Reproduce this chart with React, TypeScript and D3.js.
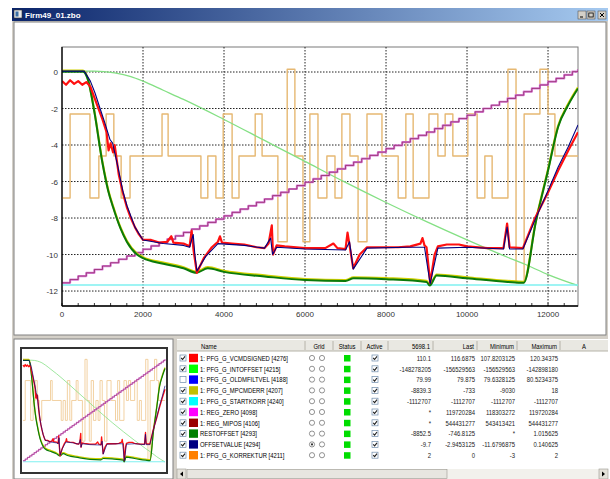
import React from "react";
import * as d3 from "d3";

type P = [number, number];

// ---- main chart data ----
const xTicks = [0, 2000, 4000, 6000, 8000, 10000, 12000];
const yTicks = [0, -2, -4, -6, -8, -10, -12];

// PFG_G_KORREKTUR (orange step signal): step start x and level
const korrekturX = [0, 200, 690, 910, 1090, 1280, 1460, 1680, 2470, 2620, 3430, 3600, 3800, 3980, 4200, 4370, 4770, 4940, 5330, 5560, 5750, 5950, 6120, 6320, 6540, 6740, 6910, 7110, 7310, 7530, 7900, 8300, 8490, 8670, 9060, 9280, 9460, 9650, 10020, 10250, 10440, 10620, 11010, 11210, 11410, 11800, 12000, 12170, 12740];
const korrekturY = [-6.9, -2.3, -6.9, -4.6, -2.3, -4.6, -6.9, -4.6, -2.3, -4.6, -6.9, -4.6, -6.9, -2.3, -6.9, -4.6, -2.3, -4.6, -9.3, 0.15, -4.6, -9.3, -2.3, -6.9, -4.6, -6.9, -2.3, -4.6, -9.3, -2.3, -4.6, -6.9, -2.3, -6.9, -2.3, -4.6, -2.3, -4.6, -2.3, -6.9, -4.6, -6.9, 0.15, -11.55, -2.3, 0.15, -2.3, -4.6, -4.6];

// PFG_G_INTOFFSET (light green)
const intOffset: P[] = [[0, 0.05], [800, 0.05], [1300, -0.05], [1700, -0.25], [2000, -0.5], [2500, -1.0], [3000, -1.5], [4000, -2.6], [5000, -3.75], [6000, -4.9], [7000, -6.05], [8000, -7.15], [9000, -8.2], [10000, -9.2], [11000, -10.15], [11500, -10.6], [12000, -11.1], [12740, -11.7]];

// PFG_G_STARTKORR (cyan)
const startKorr: P[] = [[0, -11.67], [12740, -11.67]];

// REG_ZERO / REG_MIPOS staircase, one level every 200
const stairStep = 200;
const stairY = [-11.55, -11.37, -11.18, -11.0, -10.82, -10.63, -10.45, -10.26, -10.08, -9.9,
  -9.71, -9.53, -9.35, -9.16, -8.98, -8.79, -8.61, -8.43, -8.24, -8.06,
  -7.88, -7.69, -7.51, -7.33, -7.14, -6.96, -6.77, -6.59, -6.41, -6.22,
  -6.04, -5.86, -5.67, -5.49, -5.31, -5.12, -4.94, -4.75, -4.57, -4.39,
  -4.2, -4.02, -3.84, -3.65, -3.47, -3.29, -3.1, -2.92, -2.73, -2.55,
  -2.37, -2.18, -2.0, -1.82, -1.63, -1.45, -1.27, -1.08, -0.9, -0.71,
  -0.53, -0.35, -0.16, 0.02, 0.15];

// RESTOFFSET (dark green) / PFG_G_MPCMDERR (yellow underneath)
const restOffset: P[] = [[0, 0.02], [520, 0.02], [650, -0.5], [800, -2.2], [1000, -5.0], [1140, -6.5], [1260, -7.4], [1450, -8.6], [1600, -9.3], [1850, -10.0], [2000, -10.2], [2500, -10.5], [3000, -10.75], [3320, -11.0], [3600, -10.75], [4000, -10.95], [5000, -11.2], [6000, -11.4], [7000, -11.45], [7200, -11.3], [8000, -11.35], [9000, -11.5], [9080, -11.7], [9250, -11.15], [10000, -11.3], [11000, -11.5], [11400, -11.55], [11700, -8.2], [12000, -5.4], [12250, -3.0], [12500, -1.8], [12740, -0.9]];

// PFG_G_VCMDSIGNED (red)
const vcmd: P[] = [[0, -0.5], [100, -0.7], [200, -0.45], [300, -0.65], [400, -0.5], [500, -0.7], [600, -0.55], [700, -0.8], [800, -1.4], [900, -2.0], [1000, -2.6], [1100, -3.3], [1150, -4.3], [1200, -3.9], [1260, -4.4], [1300, -4.0], [1400, -5.6], [1500, -6.6], [1600, -7.4], [1700, -8.0], [1800, -8.5], [1900, -8.9], [2000, -9.2], [2200, -9.2], [2400, -9.35], [2600, -9.3], [2700, -9.0], [2750, -9.35], [3000, -9.4], [3150, -9.55], [3200, -8.7], [3250, -9.8], [3330, -11.0], [3500, -10.2], [3700, -9.6], [3850, -9.3], [3900, -9.0], [3950, -9.35], [4200, -9.4], [4500, -9.45], [4800, -9.6], [5000, -9.65], [5100, -9.4], [5180, -8.4], [5210, -10.0], [5300, -9.5], [5500, -9.55], [6000, -9.65], [6500, -9.65], [6700, -9.4], [6800, -9.65], [7000, -9.7], [7050, -8.8], [7100, -9.5], [7190, -10.75], [7350, -10.0], [7530, -9.6], [8000, -9.6], [8300, -9.6], [8600, -9.55], [8850, -9.4], [8900, -9.1], [8950, -9.5], [9000, -9.6], [9090, -11.55], [9200, -10.0], [9280, -9.55], [9500, -9.45], [9800, -9.45], [10000, -9.55], [10500, -9.65], [10900, -9.65], [10990, -8.3], [11050, -9.6], [11380, -9.65], [11680, -8.0], [12000, -6.6], [12250, -5.4], [12500, -4.3], [12740, -3.3]];

// OFFSETVALUE (navy)
const offsetValue: P[] = [[0, 0.05], [550, 0.05], [700, -0.5], [815, -1.15], [940, -2.0], [1060, -2.8], [1185, -3.7], [1250, -3.9], [1300, -4.4], [1380, -5.2], [1500, -6.5], [1600, -7.3], [1800, -8.5], [2000, -9.2], [2500, -9.4], [3000, -9.5], [3150, -9.6], [3240, -8.9], [3280, -10.0], [3330, -10.9], [3550, -10.1], [3850, -9.4], [4500, -9.5], [5000, -9.65], [5150, -9.1], [5200, -10.0], [5300, -9.6], [6000, -9.7], [7000, -9.75], [7100, -9.3], [7190, -10.8], [7530, -9.65], [8500, -9.6], [8950, -9.6], [9090, -11.6], [9280, -9.65], [10000, -9.6], [10900, -9.7], [10990, -8.5], [11050, -9.7], [11380, -9.7], [11680, -8.1], [12000, -6.5], [12250, -5.2], [12500, -4.1], [12740, -2.9]];

// ---- table data ----
const names = ["1: PFG_G_VCMDSIGNED [4276]", "1: PFG_G_INTOFFSET [4215]", "1: PFG_G_OLDMFILTVEL [4188]", "1: PFG_G_MPCMDERR [4207]", "1: PFG_G_STARTKORR [4240]", "1: REG_ZERO [4098]", "1: REG_MIPOS [4106]", "RESTOFFSET [4293]", "OFFSETVALUE [4294]", "1: PFG_G_KORREKTUR [4211]"];
const swatches = ["#ff0000", "#00ff00", "#0000ff", "#c0c000", "#00ffff", "#ff00ff", "#990000", "#008000", "#000080", "#ff8000"];
const visible = [true, true, false, true, true, true, true, true, true, true];
const cursorVals = ["110.1", "-148278205", "79.99", "-8839.3", "-1112707", "*", "*", "-8852.5", "-9.7", "2"];
const lastVals = ["116.6875", "-156529563", "79.875", "-733", "-1112707", "119720284", "544431277", "-746.8125", "-2.9453125", "0"];
const minVals = ["107.8203125", "-156529563", "79.6328125", "-9030", "-1112707", "118303272", "543413421", "*", "-11.6796875", "-3"];
const maxVals = ["120.34375", "-142898180", "80.5234375", "18", "-1112707", "119720284", "544431277", "1.015625", "0.140625", "2"];
const gridSel = 8;

const headers = ["Name", "Grid", "Status", "Active", "5698.1", "Last", "Minimum", "Maximum", "A"];
const colEdges = [177, 305, 333, 361, 388, 433, 477, 517, 560, 608];

const FONT = "'Liberation Sans', Arial, sans-serif";

const korrektur: P[] = korrekturX.map((x, i) => [x, korrekturY[i]]);
const stairs: P[] = stairY.map((y, i) => [Math.min(i * stairStep, 12740), y]);

function Small({ x, y, anchor = "start", children, fill = "#000" }: any) {
  return (
    <text transform={`translate(${x},${y}) scale(0.74,1)`} textAnchor={anchor} fontFamily={FONT} fontSize={8} fill={fill}>
      {children}
    </text>
  );
}

function Series({ x, y, thin }: { x: d3.ScaleLinear<number, number>; y: d3.ScaleLinear<number, number>; thin?: boolean }) {
  const k = thin ? 0.6 : 1;
  const ln = d3.line<P>().x(d => x(d[0])).y(d => y(d[1]));
  const smooth = d3.line<P>().x(d => x(d[0])).y(d => y(d[1])).curve(d3.curveMonotoneX);
  const step = d3.line<P>().x(d => x(d[0])).y(d => y(d[1])).curve(d3.curveStepAfter);
  return (
    <g fill="none" strokeLinejoin="round">
      <path d={step(korrektur)!} stroke={thin ? "#efc890" : "#e6b872"} strokeWidth={1.4 * k} />
      <path d={smooth(intOffset)!} stroke="#84e084" strokeWidth={1.3 * k} />
      <path d={ln(startKorr)!} stroke="#7ff0f0" strokeWidth={1.7 * k} />
      <path d={step(stairs)!} stroke="#da80da" strokeWidth={2.2 * k} />
      <path d={step(stairs)!} stroke="#8a1f5a" strokeWidth={0.7 * k} />
      <path d={smooth(restOffset)!} stroke="#d0d000" strokeWidth={2.2 * k} transform="translate(0,-1)" />
      <path d={smooth(restOffset)!} stroke="#0a7a0a" strokeWidth={2 * k} />
      <path d={ln(vcmd)!} stroke="#ff1010" strokeWidth={2.2 * k} />
      <path d={ln(offsetValue)!} stroke="#000080" strokeWidth={1.1 * k} />
    </g>
  );
}

function MainChart() {
  const x = d3.scaleLinear().domain([0, 12740]).range([62, 578]);
  const y = d3.scaleLinear().domain([1.37, -12.82]).range([47, 306]);
  const [x0, x1] = x.range();
  const [y0, y1] = y.range();
  const minor = d3.range(0, 12740, 400);
  return (
    <g>
      <defs>
        <clipPath id="plotClip">
          <rect x={x0} y={y0} width={x1 - x0} height={y1 - y0} />
        </clipPath>
      </defs>
      <rect x={x0} y={y0} width={x1 - x0} height={y1 - y0} fill="#fff" stroke="#7a7a7a" strokeWidth={1} />
      {xTicks.slice(1).map(t => (
        <line key={"gx" + t} x1={x(t)} x2={x(t)} y1={y0} y2={y1} stroke="#222" strokeWidth={1} strokeDasharray="1.5 1.5" />
      ))}
      {yTicks.map(t => (
        <line key={"gy" + t} x1={x0} x2={x1} y1={y(t)} y2={y(t)} stroke="#222" strokeWidth={1} strokeDasharray="1.5 1.5" />
      ))}
      <g clipPath="url(#plotClip)">
        <Series x={x} y={y} />
      </g>
      <line x1={x0} x2={x0} y1={y0} y2={y1} stroke="#000" strokeWidth={1.3} />
      <line x1={x0} x2={x1} y1={y1} y2={y1} stroke="#000" strokeWidth={1.6} />
      {minor.map(t => (
        <line key={"mx" + t} x1={x(t)} x2={x(t)} y1={y1} y2={y1 - 3} stroke="#000" strokeWidth={0.8} />
      ))}
      {xTicks.map(t => (
        <text key={"lx" + t} x={x(t)} y={y1 + 11} textAnchor="middle" fontFamily={FONT} fontSize={8} fill="#333">
          {t}
        </text>
      ))}
      {yTicks.map(t => (
        <text key={"ly" + t} x={x0 - 4} y={y(t) + 3} textAnchor="end" fontFamily={FONT} fontSize={8} fill="#333">
          {t}
        </text>
      ))}
    </g>
  );
}

function Thumbnail() {
  const x = d3.scaleLinear().domain([0, 12740]).range([23, 165]);
  const y = d3.scaleLinear().domain([1.0, -12.4]).range([352, 468]);
  return (
    <g>
      <defs>
        <clipPath id="thumbClip">
          <rect x={22} y={349} width={144} height={123} />
        </clipPath>
      </defs>
      <rect x={22} y={349} width={144} height={123} fill="#fff" />
      <g clipPath="url(#thumbClip)">
        <Series x={x} y={y} thin />
      </g>
      <rect x={21} y={348} width={146} height={125} fill="none" stroke="#333" strokeWidth={2} />
    </g>
  );
}

function CheckBox({ x, y, on }: { x: number; y: number; on: boolean }) {
  return (
    <g>
      <rect x={x} y={y} width={6} height={6} fill="#fff" stroke="#6d8bab" strokeWidth={0.7} />
      {on && <path d={`M${x + 1.2},${y + 3} L${x + 2.6},${y + 4.5} L${x + 5},${y + 1.4}`} fill="none" stroke="#222" strokeWidth={1.1} />}
    </g>
  );
}

function Table() {
  const rowY = (i: number) => 358 + i * 10.8;
  return (
    <g>
      <rect x={177} y={339} width={431} height={140} fill="#fff" />
      <rect x={177} y={340} width={431} height={11} fill="#e9e8e2" />
      <line x1={177} x2={608} y1={351} y2={351} stroke="#b5b3a8" />
      {colEdges.slice(1, -1).map(e => (
        <line key={"ce" + e} x1={e} x2={e} y1={341} y2={350} stroke="#a8a69c" strokeWidth={0.8} />
      ))}
      {headers.map((h, i) => {
        const a = colEdges[i], b = colEdges[i + 1];
        if (i === 0) return <Small key={h} x={201} y={348.5}>{h}</Small>;
        if (i >= 4 && i <= 7) return <Small key={h} x={b - 3} y={348.5} anchor="end">{h}</Small>;
        return <Small key={h} x={(a + b) / 2} y={348.5} anchor="middle">{h}</Small>;
      })}
      {names.map((n, i) => {
        const cy = rowY(i);
        return (
          <g key={n}>
            <CheckBox x={180} y={cy - 3} on={visible[i]} />
            <rect x={189} y={cy - 4.2} width={9} height={8.4} fill={swatches[i]} />
            <Small x={200} y={cy + 2.8}>{n}</Small>
            {[312, 322].map((cx, j) => (
              <g key={cx}>
                <circle cx={cx} cy={cy} r={2.6} fill="#fff" stroke="#666" strokeWidth={0.7} />
                {i === gridSel && j === 0 && <circle cx={cx} cy={cy} r={1.1} fill="#333" />}
              </g>
            ))}
            <rect x={344} y={cy - 3} width={6.5} height={6.5} fill="#00dd00" />
            <CheckBox x={372} y={cy - 3} on={true} />
            <Small x={431} y={cy + 2.8} anchor="end" fill="#222">{cursorVals[i]}</Small>
            <Small x={475} y={cy + 2.8} anchor="end" fill="#222">{lastVals[i]}</Small>
            <Small x={515} y={cy + 2.8} anchor="end" fill="#222">{minVals[i]}</Small>
            <Small x={558} y={cy + 2.8} anchor="end" fill="#222">{maxVals[i]}</Small>
          </g>
        );
      })}
      {/* horizontal scrollbar */}
      <rect x={177} y={469} width={431} height={10} fill="#f2f1ec" />
      <rect x={177} y={469} width={9} height={10} fill="#e4e2da" stroke="#9a9890" strokeWidth={0.6} />
      <path d="M183,471.5 L180,474 L183,476.5 Z" fill="#000" />
      <rect x={187} y={469.5} width={260} height={9} fill="#e7e6e0" stroke="#9a9890" strokeWidth={0.6} />
      <rect x={599} y={469} width={9} height={10} fill="#e4e2da" stroke="#9a9890" strokeWidth={0.6} />
      <path d="M602,471.5 L605,474 L602,476.5 Z" fill="#000" />
    </g>
  );
}

export default function App() {
  return (
    <svg width={610} height={479} style={{ position: "absolute", left: 0, top: 0 }}>
      <defs>
        <linearGradient id="titleGrad" x1="0" x2="1" y1="0" y2="0">
          <stop offset="0" stopColor="#0a246a" />
          <stop offset="1" stopColor="#a6caf0" />
        </linearGradient>
      </defs>
      <rect x={0} y={0} width={610} height={479} fill="#fff" />
      {/* window frame */}
      <rect x={12} y={8} width={596} height={471} fill="#d4d0c8" />
      <rect x={12} y={8} width={596} height={13} fill="url(#titleGrad)" />
      <rect x={14} y={10} width={8} height={8} fill="#e8e8e8" stroke="#333" strokeWidth={0.6} />
      <rect x={15.5} y={11.5} width={3} height={5} fill="#3a6ea5" />
      <text x={25} y={18} fontFamily={FONT} fontSize={8} fontWeight="bold" fill="#fff">Firm49_01.zbo</text>
      {[578, 587, 598].map((bx, i) => (
        <g key={bx}>
          <rect x={bx} y={11} width={8} height={8} fill="#d4d0c8" stroke="#404040" strokeWidth={0.5} />
          {i === 0 && <line x1={bx + 2} x2={bx + 5} y1={17} y2={17} stroke="#000" strokeWidth={1} />}
          {i === 1 && <rect x={bx + 1.8} y={13} width={4.4} height={4} fill="none" stroke="#000" strokeWidth={0.8} />}
          {i === 2 && <path d={`M${bx + 2},${13} L${bx + 6},${17} M${bx + 6},${13} L${bx + 2},${17}`} stroke="#000" strokeWidth={1} />}
        </g>
      ))}
      {/* top pane */}
      <rect x={14} y={22} width={592} height={313} fill="#fff" stroke="#808080" strokeWidth={1} />
      <MainChart />
      {/* bottom panes */}
      <rect x={14} y={339} width={159} height={140} fill="#fff" stroke="#808080" strokeWidth={1} />
      <Thumbnail />
      <Table />
    </svg>
  );
}
